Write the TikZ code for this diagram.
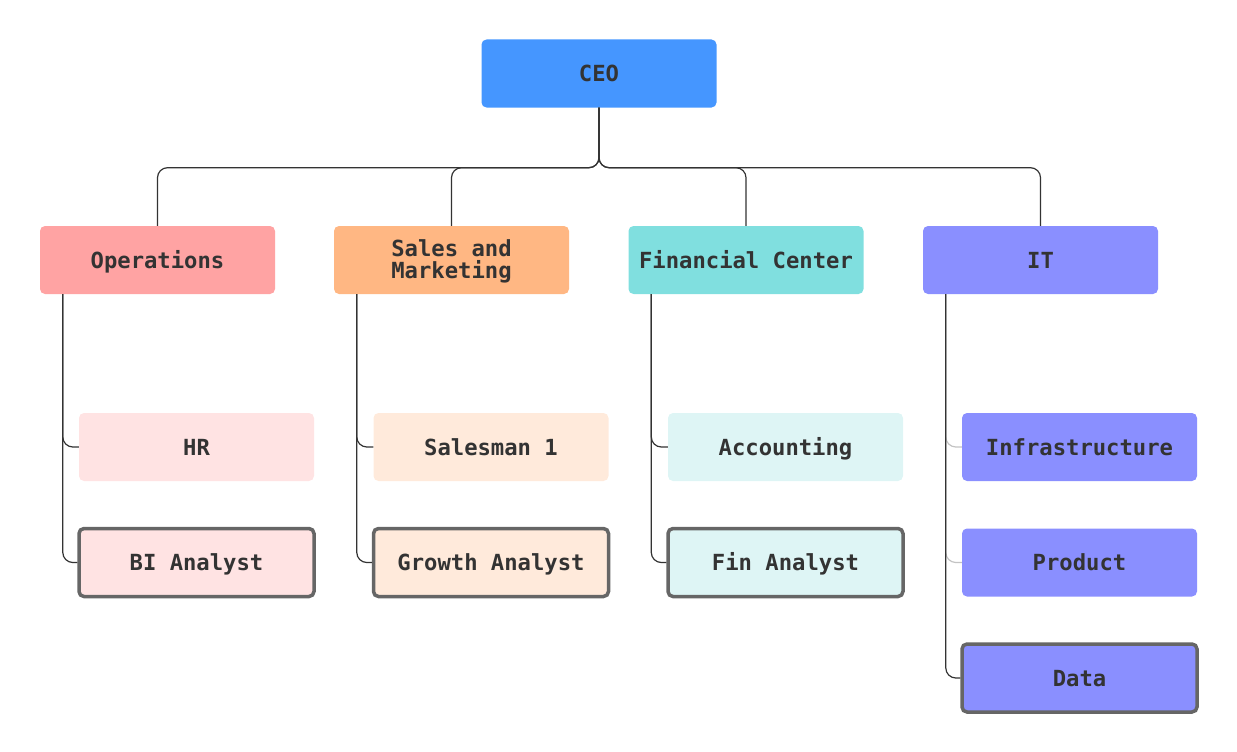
\documentclass[tikz,border=0pt]{standalone}
\usepackage{fontspec}
\setmainfont{DejaVu Sans Mono}
\definecolor{ceoc}{RGB}{69,150,255}
\definecolor{opsc}{RGB}{255,163,163}
\definecolor{salc}{RGB}{255,183,131}
\definecolor{finc}{RGB}{128,223,223}
\definecolor{itc}{RGB}{138,143,255}
\definecolor{opsl}{RGB}{255,227,227}
\definecolor{sall}{RGB}{255,234,219}
\definecolor{finl}{RGB}{222,245,245}
\definecolor{txt}{RGB}{51,51,51}
\definecolor{selc}{RGB}{102,102,102}
\definecolor{linec}{RGB}{51,51,51}
\definecolor{lightl}{RGB}{195,195,195}
\tikzset{
  box/.style={rectangle, rounded corners=5pt, minimum width=235pt, minimum height=68pt,
    inner sep=0pt, font=\fontsize{22.2}{22}\selectfont\bfseries, text=txt,
    text height=16pt, text depth=0pt},
  sel/.style={draw=selc, line width=3.5pt},
  conn/.style={draw=linec, line width=1.2pt, rounded corners=10pt},
  connl/.style={draw=lightl, line width=1.2pt, rounded corners=10pt},
}
\begin{document}
\begin{tikzpicture}[x=1pt,y=-1pt]
\useasboundingbox (0,0) rectangle (1237,752);
% top
\node[box, fill=ceoc] (ceo) at (599,73.5) {CEO};
% departments
\node[box, fill=opsc] (ops) at (157.5,260) {Operations};
\node[box, fill=salc] (sal) at (451.5,260) {\raisebox{0.5pt}[0pt][0pt]{\begin{tabular}{@{}c@{}}Sales and\\[-2pt]Marketing\end{tabular}}};
\node[box, fill=finc] (fin) at (746,260) {Financial Center};
\node[box, fill=itc] (it) at (1040.5,260) {IT};
% level 3
\node[box, fill=opsl] (hr) at (196.5,447) {HR};
\node[box, fill=opsl, sel] (bi) at (196.5,562.5) {BI Analyst};
\node[box, fill=sall] (sm) at (491,447) {Salesman 1};
\node[box, fill=sall, sel] (ga) at (491,562.5) {Growth Analyst};
\node[box, fill=finl] (acc) at (785.5,447) {Accounting};
\node[box, fill=finl, sel] (fa) at (785.5,562.5) {Fin Analyst};
\node[box, fill=itc] (inf) at (1079.5,447) {Infrastructure};
\node[box, fill=itc] (prod) at (1079.5,562.5) {Product};
\node[box, fill=itc, sel] (data) at (1079.5,678) {Data};
% CEO connectors
\foreach \d in {ops,sal,fin,it}{
  \draw[conn] (ceo.south) -- ++(0,60) -| (\d.north);
}
% children connectors
\draw[conn] ([xshift=23pt]ops.south west) |- (hr.west);
\draw[conn] ([xshift=23pt]ops.south west) |- (bi.west);
\draw[conn] ([xshift=23pt]sal.south west) |- (sm.west);
\draw[conn] ([xshift=23pt]sal.south west) |- (ga.west);
\draw[conn] ([xshift=23pt]fin.south west) |- (acc.west);
\draw[conn] ([xshift=23pt]fin.south west) |- (fa.west);
\draw[connl] ([xshift=23pt]it.south west) |- (inf.west);
\draw[connl] ([xshift=23pt]it.south west) |- (prod.west);
\draw[conn] ([xshift=23pt]it.south west) |- (data.west);
\end{tikzpicture}
\end{document}
